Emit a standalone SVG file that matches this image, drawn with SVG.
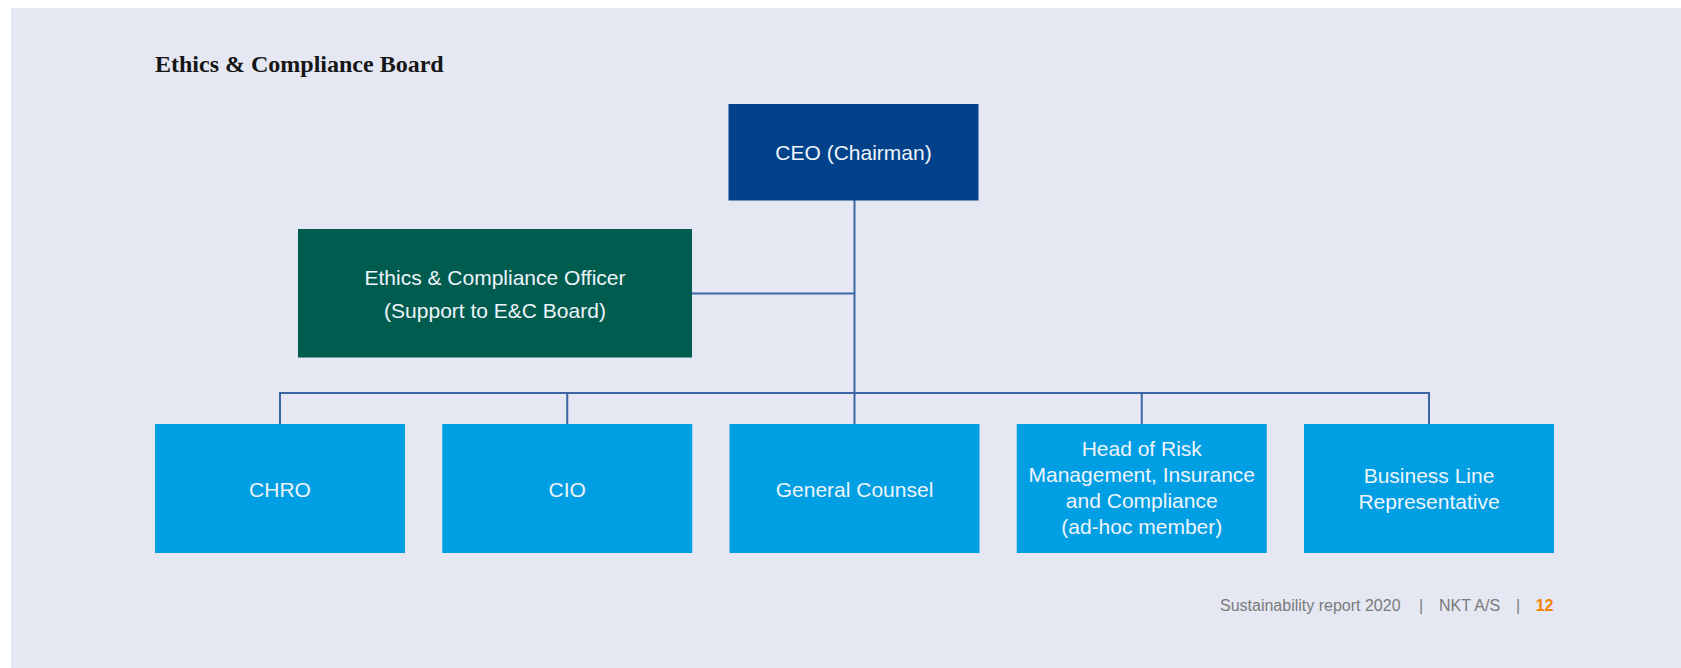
<svg xmlns="http://www.w3.org/2000/svg" width="1681" height="668" viewBox="0 0 1681 668">
<style>
.box text{font-family:"Liberation Sans",Arial,sans-serif;font-size:21px;fill:#eef4fb;text-anchor:middle}
.ceo rect{fill:#01428a}
.eco rect{fill:#005c4f}
.mem rect{fill:#009fe3}
.conn path{fill:none;stroke:#3b66a3;stroke-width:2}
.title{font-family:"Liberation Serif","Times New Roman",serif;font-weight:bold;font-size:24px;fill:#161616}
.foot{font-family:"Liberation Sans",Arial,sans-serif;font-size:16px;fill:#7a7a7a}
</style>
<rect x="0" y="0" width="1681" height="668" fill="#ffffff"/>
<rect x="11" y="8" width="1670" height="660" fill="#e5e8f3"/>
<text class="title" x="155" y="72">Ethics &amp; Compliance Board</text>
<g id="connectors" class="conn">
<path d="M854.5,200 V393"/>
<path d="M692,293.5 H854.5"/>
<path d="M280,424 V393 H1429 V424"/>
<path d="M567.25,393 V424"/>
<path d="M854.5,393 V424"/>
<path d="M1141.75,393 V424"/>
</g>
<g id="ceo" class="box ceo">
<rect x="728.5" y="104" width="250" height="96.5"/>
<text x="853.5" y="160">CEO (Chairman)</text>
</g>
<g id="eco" class="box eco">
<rect x="298" y="229" width="394" height="128.5"/>
<text x="495" y="285">Ethics &amp; Compliance Officer</text>
<text x="495" y="317.5">(Support to E&amp;C Board)</text>
</g>
<g id="chro" class="box mem">
<rect x="155" y="424" width="250" height="129"/>
<text x="280" y="496.5">CHRO</text>
</g>
<g id="cio" class="box mem">
<rect x="442.25" y="424" width="250" height="129"/>
<text x="567.25" y="496.5">CIO</text>
</g>
<g id="gc" class="box mem">
<rect x="729.5" y="424" width="250" height="129"/>
<text x="854.5" y="496.5">General Counsel</text>
</g>
<g id="risk" class="box mem">
<rect x="1016.75" y="424" width="250" height="129"/>
<text x="1141.75" y="456">Head of Risk</text>
<text x="1141.75" y="482">Management, Insurance</text>
<text x="1141.75" y="508">and Compliance</text>
<text x="1141.75" y="534">(ad-hoc member)</text>
</g>
<g id="blr" class="box mem">
<rect x="1304" y="424" width="250" height="129"/>
<text x="1429" y="482.5">Business Line</text>
<text x="1429" y="508.5">Representative</text>
</g>
<g id="footer">
<text class="foot" x="1220" y="611">Sustainability report 2020</text>
<text class="foot" x="1421" y="611" text-anchor="middle">|</text>
<text class="foot" x="1439" y="611">NKT A/S</text>
<text class="foot" x="1518" y="611" text-anchor="middle">|</text>
<text class="foot" x="1553.5" y="611" text-anchor="end" style="fill:#f08300;font-weight:bold">12</text>
</g>
</svg>
